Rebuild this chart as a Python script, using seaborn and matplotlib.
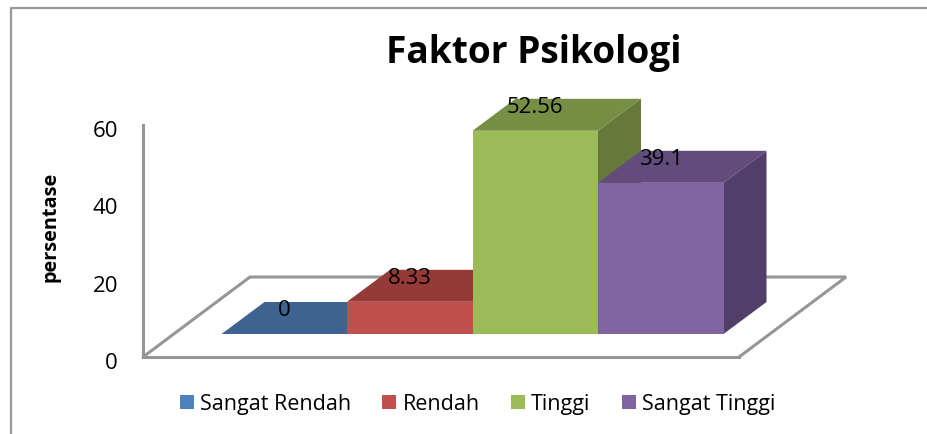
import matplotlib
matplotlib.use("Agg")
import matplotlib.pyplot as plt
import seaborn as sns
import pandas as pd
from matplotlib.patches import Polygon
from matplotlib.transforms import ScaledTranslation

categories = ["Sangat Rendah", "Rendah", "Tinggi", "Sangat Tinggi"]
values = [0, 8.33, 52.56, 39.1]
value_labels = ["0", "8.33", "52.56", "39.1"]
front_colors = ["#4F81BD", "#C0504D", "#9BBB59", "#8064A2"]
top_colors = ["#3E6390", "#943B38", "#778F45", "#624C7C"]
side_colors = ["#34547A", "#7E322F", "#66793A", "#523F69"]
axis_ticks = [0, 20, 40, 60]

W, H = 927, 435
FONT = "Open Sans"
GREY = "#969696"
sns.set_theme(style="white")
plt.rcParams["font.family"] = FONT

def rect(x0, y_top, x1, y_bottom):
    return [x0 / W, 1 - y_bottom / H, (x1 - x0) / W, (y_bottom - y_top) / H]

fig = plt.figure(figsize=(W / 100, H / 100), dpi=100, facecolor="white")

# outer frame: left and top edges only
fig.add_artist(plt.Line2D([11 / W, 11 / W, 1],
                          [0, 1 - 9 / H, 1 - 9 / H], color="#999999", lw=1.6))

# walls / value axis
ax_wall = fig.add_axes(rect(143, 126, 739, 358))
ax_wall.set_ylim(0, 60)
ax_wall.set_xlim(0, 1)
ax_wall.patch.set_alpha(0)
ax_wall.set_xticks([])
ax_wall.set_yticks(axis_ticks)
ax_wall.tick_params(axis="y", length=0, pad=18, labelsize=16, labelcolor="black")
shift_down = ScaledTranslation(0, -3 / 100, fig.dpi_scale_trans)
for lab in ax_wall.get_yticklabels():
    lab.set_transform(lab.get_transform() + shift_down)
for name in ("top", "right"):
    ax_wall.spines[name].set_visible(False)
for name in ("left", "bottom"):
    ax_wall.spines[name].set_color(GREY)
    ax_wall.spines[name].set_linewidth(2.2)
ax_wall.set_ylabel("persentase", fontsize=14.3, fontweight="bold", color="black", labelpad=0)
ax_wall.yaxis.set_label_coords((60 - 143) / 596, 0.565)
depth_x = 107 / 596
depth_y = 80 / 232
ax_wall.plot([0, depth_x, 1 + depth_x, 1], [0, depth_y, depth_y, 0], transform=ax_wall.transAxes,
             color=GREY, lw=2.2, clip_on=False, solid_joinstyle="miter")

# bars: front plane
ax = fig.add_axes(rect(221.5, 103, 723.5, 335))
ax.patch.set_alpha(0)
df = pd.DataFrame({"kategori": categories, "nilai": values})
sns.barplot(data=df, x="kategori", y="nilai", hue="kategori", hue_order=categories,
            order=categories, palette=front_colors, saturation=1, width=1, dodge=False,
            ax=ax, legend=True, linewidth=0)
ax.set_xlim(-0.5, 3.5)
ax.set_ylim(0, 60)
ax.axis("off")

dx = 43 / 125.5
dy = 32 / (232 / 60)
for i, container in enumerate(ax.containers):
    for bar in container:
        x0, x1 = bar.get_x(), bar.get_x() + bar.get_width()
        h = bar.get_height()
        z = 2 + i
        ax.add_patch(Polygon([(x0, h), (x1, h), (x1 + dx, h + dy), (x0 + dx, h + dy)],
                             closed=True, fc=top_colors[i], ec="none", zorder=z, clip_on=False))
        ax.add_patch(Polygon([(x1, 0), (x1, h), (x1 + dx, h + dy), (x1 + dx, dy)],
                             closed=True, fc=side_colors[i], ec="none", zorder=z, clip_on=False))
        bar.set_zorder(z + 0.5)
        bar.set_clip_on(False)
        ax.annotate(value_labels[i], (x0 + (x1 - x0) / 2, h), xytext=(0, 24 * 0.72),
                    textcoords="offset points", ha="center", va="center",
                    fontsize=16, color="black", zorder=20, annotation_clip=False)

handles, labels = ax.get_legend_handles_labels()
ax.get_legend().remove()
fig.legend(handles, labels, ncol=4, loc="center", bbox_to_anchor=(477.5 / W, 1 - 405 / H),
           frameon=False, fontsize=15.5, handlelength=0.66, handleheight=0.66,
           handletextpad=0.28, columnspacing=1.45, labelcolor="black", borderpad=0)

fig.text(533.5 / W, 1 - 53 / H, "Faktor Psikologi", ha="center", va="center",
         fontsize=26.7, fontweight="bold", color="black")

fig.savefig("out.png", dpi=100, facecolor="white")
